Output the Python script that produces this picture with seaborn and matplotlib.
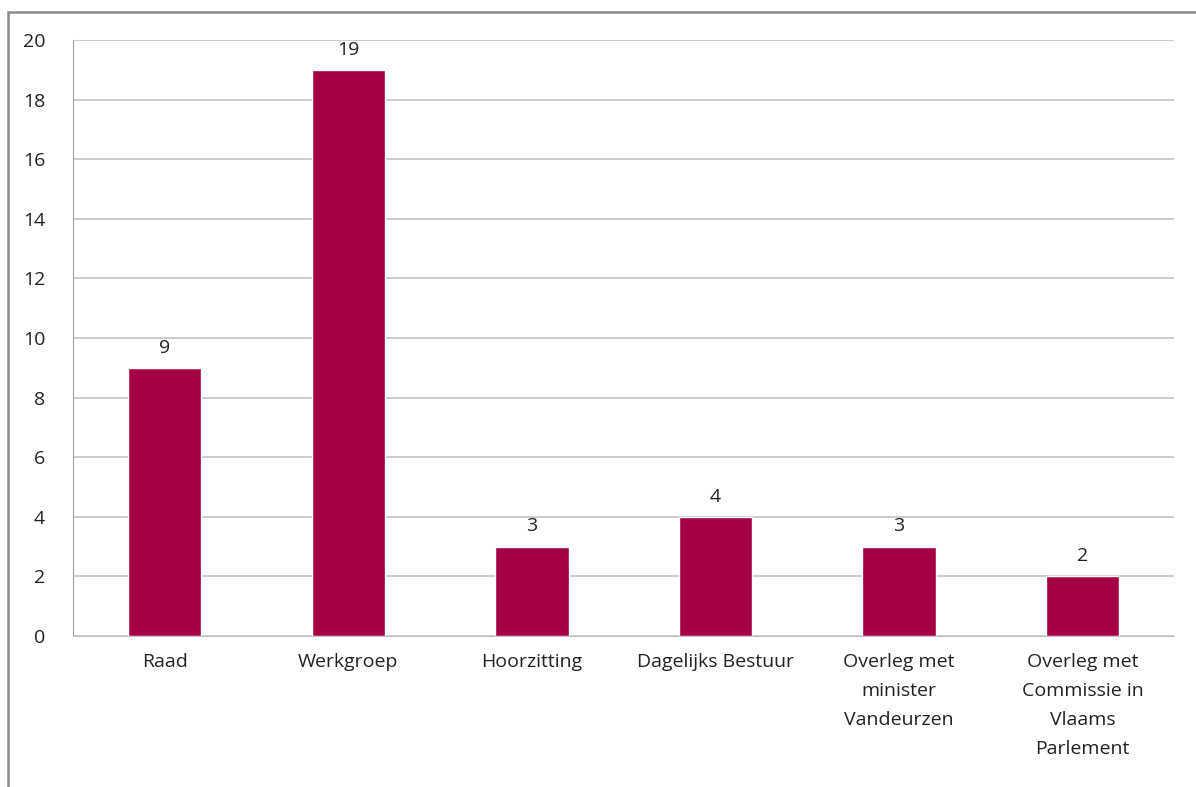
import matplotlib
matplotlib.use("Agg")
import matplotlib.pyplot as plt
import seaborn as sns
import pandas as pd
from matplotlib.patches import Rectangle

categories = ["Raad", "Werkgroep", "Hoorzitting", "Dagelijks Bestuur",
              "Overleg met\nminister\nVandeurzen",
              "Overleg met\nCommissie in\nVlaams\nParlement"]
values = [9, 19, 3, 4, 3, 2]

df = pd.DataFrame({"cat": categories, "n": values})

sns.set_style("white")
plt.rcParams["font.family"] = ["Open Sans", "DejaVu Sans"]

fig = plt.figure(figsize=(11.96, 7.87), dpi=100)
ax = fig.add_axes([0.061, 0.192, 0.921, 0.757])

sns.barplot(data=df, x="cat", y="n", color="#A50046", saturation=1,
            width=0.4, ax=ax)

ax.set_ylim(0, 20)
ax.set_yticks(range(0, 21, 2))
ax.yaxis.grid(True, color="#c4c4c4", linewidth=1.2)
ax.set_axisbelow(True)
ax.set_xlabel("")
ax.set_ylabel("")
for s in ["top", "right"]:
    ax.spines[s].set_visible(False)
ax.spines["left"].set_color("#a0a0a0")
ax.spines["bottom"].set_color("#c4c4c4")
ax.tick_params(axis="both", length=0, labelsize=14, colors="#222222")
ax.tick_params(axis="y", pad=20)
ax.tick_params(axis="x", pad=12)
for lbl in ax.get_xticklabels():
    lbl.set_linespacing(1.8)

for c in ax.containers:
    ax.bar_label(c, padding=8, fontsize=14, color="#222222")

# frame: left and top edges visible, right/bottom run off the canvas
fig.patches.append(Rectangle((0.007, -0.05), 1.1, 1.035, transform=fig.transFigure,
                             fill=False, edgecolor="#8a8a8a", linewidth=1.8))

fig.savefig("out.png", dpi=100)
